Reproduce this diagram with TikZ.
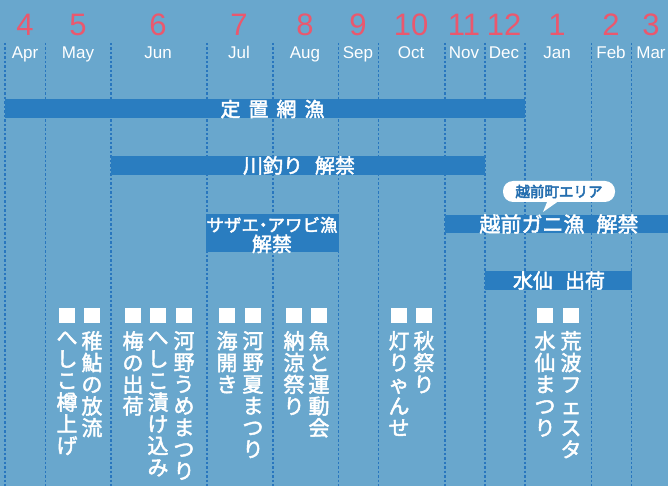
\documentclass[tikz,border=0pt]{standalone}
\usepackage{fontspec}
\setmainfont{Liberation Sans}
\newfontfamily\jp[FakeBold=2.2]{Noto Sans CJK JP}
\newfontfamily\jpb[FakeBold=3.5]{Noto Sans CJK JP}
\definecolor{bgblue}{RGB}{105,167,205}
\definecolor{barblue}{RGB}{42,125,192}
\definecolor{gridblue}{RGB}{40,118,190}
\definecolor{numred}{RGB}{234,88,110}
\definecolor{calltext}{RGB}{36,110,175}
\begin{document}
\begin{tikzpicture}[x=1pt,y=-1pt,
  num/.style={text=numred, font=\fontsize{31}{31}\selectfont, anchor=base, inner sep=0},
  mon/.style={text=white, font=\fontsize{17}{17}\selectfont, anchor=base, inner sep=0},
  gridline/.style={draw=gridblue, line width=1.1pt, dash pattern=on 2.5pt off 2pt},
  barbox/.style={fill=barblue},
  bartext/.style={text=white, font=\jp\fontsize{20}{20}\selectfont, inner sep=0},
  sq/.style={fill=white, minimum width=16pt, minimum height=15pt, inner sep=0, anchor=north},
  vtext/.style={text=white, font=\jp\fontsize{21}{21.7}\selectfont, align=center, anchor=north, inner sep=0}]
\useasboundingbox (0,0) rectangle (668,486);
\fill[bgblue] (0,0) rectangle (668,486);
% grid
\foreach \x in {5,45.5,111,207,273,338.5,378.5,445,485,525,591.5,631.5}
  \draw[gridline] (\x,43) -- (\x,486);
% header
\foreach \x/\n/\m in {25/4/Apr,78/5/May,158/6/Jun,239/7/Jul,305/8/Aug,358/9/Sep,411/10/Oct,464/11/Nov,504/12/Dec,557/1/Jan,611/2/Feb,651/3/Mar}{
  \node[num] (n\n) at (\x,36) {\n};
  \node[mon] (m\m) at (\x,58.5) {\m};
}
% bars
\fill[barblue] (5,99) rectangle (525,118);
\node[bartext] (b1) at (272.5,109) {定\hspace{8pt}置\hspace{8pt}網\hspace{8pt}漁};
\fill[barblue] (111,156) rectangle (485,175);
\node[bartext] (b2) at (299,165.5) {川釣り\hspace{12pt}解禁};
\fill[barblue] (206,214) rectangle (338.5,251.5);
\node[bartext, align=center, font=\jp\fontsize{17.5}{20}\selectfont] (b3) at (272,235) {サザエ\hspace{-4.5pt}・\hspace{-4.5pt}アワビ漁\\{\fontsize{20}{20}\selectfont 解禁}};
\fill[barblue] (445,215) rectangle (668,233);
\node[bartext, font=\jp\fontsize{21}{21}\selectfont] (b4) at (559,224) {越前ガニ漁\hspace{12pt}解禁};
\fill[barblue] (485,271) rectangle (631.5,290);
\node[bartext] (b5) at (559,280.5) {水仙\hspace{12pt}出荷};
% callout
\node[fill=white, rounded corners=10pt, minimum width=112pt, minimum height=21pt, inner sep=0,
  text=calltext, font=\jpb\fontsize{14.5}{14.5}\selectfont] (ca) at (559,191.5) {越前町エリア};
\coordinate (tip) at (543,212);
\fill[white] ([xshift=-12pt]ca.south) -- (tip) -- ([xshift=-2pt]ca.south) -- cycle;
% events
\foreach \x/\i in {67/1,92/2,133/3,158/4,184/5,227/6,253/7,294/8,319/9,399/10,424/11,545/12,571/13}
  \node[sq] (s\i) at (\x,308) {};
\node[vtext] (e1) at (67,331) {へ\\し\\こ\\樽\\上\\げ};
\node[vtext] (e2) at (92,331) {稚\\鮎\\の\\放\\流};
\node[vtext] (e3) at (133,331) {梅\\の\\出\\荷};
\node[vtext] (e4) at (158,331) {へ\\し\\こ\\漬\\け\\込\\み};
\node[vtext] (e5) at (184,331) {河\\野\\う\\め\\ま\\つ\\り};
\node[vtext] (e6) at (227,331) {海\\開\\き};
\node[vtext] (e7) at (253,331) {河\\野\\夏\\ま\\つ\\り};
\node[vtext] (e8) at (294,331) {納\\涼\\祭\\り};
\node[vtext] (e9) at (319,331) {魚\\と\\運\\動\\会};
\node[vtext] (e10) at (399,331) {灯\\り\\ゃ\\ん\\せ};
\node[vtext] (e11) at (424,331) {秋\\祭\\り};
\node[vtext] (e12) at (545,331) {水\\仙\\ま\\つ\\り};
\node[vtext] (e13) at (571,331) {荒\\波\\フ\\ェ\\ス\\タ};
\end{tikzpicture}
\end{document}
